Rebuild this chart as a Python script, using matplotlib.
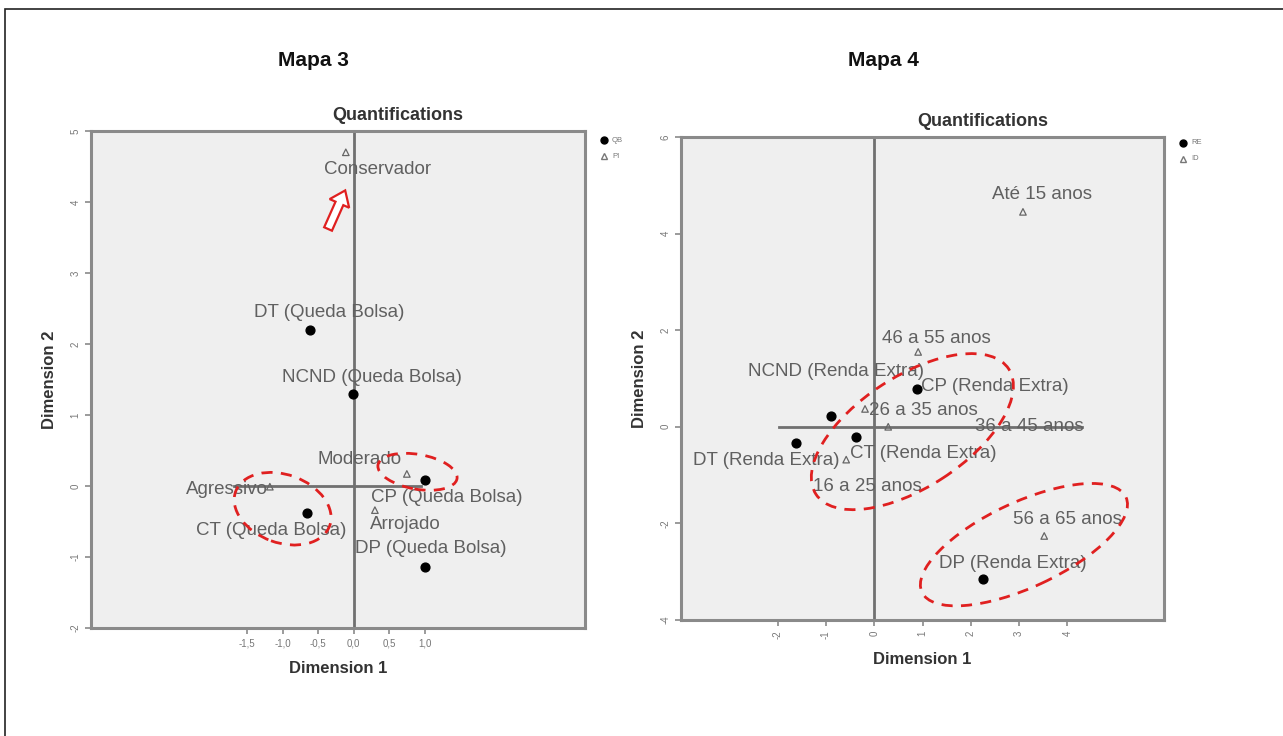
import matplotlib.pyplot as plt
import matplotlib.patches as patches

plt.rcParams['font.family'] = ['Liberation Sans', 'DejaVu Sans']

# --- Mapa 3 data ---
qb_names = ["DT (Queda Bolsa)", "NCND (Queda Bolsa)", "CP (Queda Bolsa)",
            "CT (Queda Bolsa)", "DP (Queda Bolsa)"]
qb_x = [-0.61, -0.01, 1.00, -0.65, 1.00]
qb_y = [2.20, 1.30, 0.08, -0.38, -1.14]
pi_names = ["Conservador", "Moderado", "Agressivo", "Arrojado"]
pi_x = [-0.11, 0.75, -1.18, 0.30]
pi_y = [4.70, 0.17, -0.01, -0.34]

# --- Mapa 4 data ---
re_names = ["NCND (Renda Extra)", "DT (Renda Extra)", "CT (Renda Extra)",
            "CP (Renda Extra)", "DP (Renda Extra)"]
re_x = [-0.89, -1.62, -0.37, 0.89, 2.26]
re_y = [0.23, -0.33, -0.21, 0.79, -3.15]
id_names = ["Até 15 anos", "46 a 55 anos", "26 a 35 anos", "36 a 45 anos",
            "16 a 25 anos", "56 a 65 anos"]
id_x = [3.08, 0.91, -0.19, 0.29, -0.58, 3.52]
id_y = [4.45, 1.55, 0.37, 0.00, -0.68, -2.26]

# label offsets in pixels (dx, dy, ha)
qb_off = [(19, 17, 'center'), (19, 16, 'center'), (22, -17, 'center'),
          (-36, -18, 'center'), (6, 18, 'center')]
pi_off = [(32, -17, 'center'), (-47, 14, 'center'), (-2, -3, 'right'), (30, -14, 'center')]
re_off = [(5, 44, 'center'), (-30, -18, 'center'), (67, -17, 'center'),
          (4, 2, 'left'), (29, 15, 'center')]
id_off = [(19, 17, 'center'), (18, 13, 'center'), (4, -2, 'left'), (141, 0, 'center'),
          (21, -27, 'center'), (23, 16, 'center')]

TXT = '#606060'
BG = '#efefef'
FRAME = '#8a8a8a'
RED = '#e02020'

fig = plt.figure(figsize=(12.83, 7.36), dpi=100)
fig.patch.set_facecolor('white')

# outer border
fig.add_artist(patches.Rectangle((5 / 1283, -0.05), 1.1, 1 - 9 / 736 + 0.05,
                                 transform=fig.transFigure, fill=False,
                                 edgecolor='#222222', lw=1.2))


def style_axes(ax):
    ax.set_facecolor(BG)
    for s in ['top', 'right', 'left', 'bottom']:
        ax.spines[s].set_color(FRAME)
        ax.spines[s].set_linewidth(2.2)
    ax.tick_params(axis='both', colors=FRAME, labelcolor='#777777', labelsize=7,
                   length=4, width=1.2, direction='out')


def labels(ax, xs, ys, names, offs):
    for x, y, n, (dx, dy, ha) in zip(xs, ys, names, offs):
        ax.annotate(n, (x, y), xytext=(dx, dy), textcoords='offset pixels',
                    ha=ha, va='center', fontsize=13.5, color=TXT, zorder=4)


def legend(x, y, names):
    fig.lines.append(plt.Line2D([x / 1283], [1 - y / 736], marker='o', ms=5,
                                color='black', ls='none', transform=fig.transFigure))
    fig.lines.append(plt.Line2D([x / 1283], [1 - (y + 16) / 736], marker='^', ms=4,
                                mfc='none', mec='#777777', ls='none',
                                transform=fig.transFigure))
    fig.text((x + 8) / 1283, 1 - y / 736, names[0], fontsize=5.5, color='#777777', va='center')
    fig.text((x + 8) / 1283, 1 - (y + 16) / 736, names[1], fontsize=5.5, color='#777777',
             va='center')


# ================= Mapa 3 =================
ax1 = fig.add_axes([91 / 1283, 1 - 628 / 736, 494 / 1283, 497 / 736])
style_axes(ax1)
ax1.set_xlim(-3.7, 3.26)
ax1.set_ylim(-2, 5)
ax1.axvline(0, color='#707070', lw=2, zorder=1)
ax1.plot([-1.68, 0.95], [0, 0], color='#707070', lw=2, zorder=1)
ax1.scatter(qb_x, qb_y, s=40, color='black', zorder=3)
ax1.scatter(pi_x, pi_y, s=22, marker='^', facecolor='none', edgecolor='#666666',
            lw=0.9, zorder=3)
labels(ax1, qb_x, qb_y, qb_names, qb_off)
labels(ax1, pi_x, pi_y, pi_names, pi_off)
ax1.set_xticks([-1.5, -1.0, -0.5, 0.0, 0.5, 1.0])
ax1.set_xticklabels(['-1,5', '-1,0', '-0,5', '0,0', '0,5', '1,0'])
ax1.set_yticks(range(-2, 6))
ax1.set_yticklabels([str(v) for v in range(-2, 6)], rotation=90, va='center')
ax1.add_patch(patches.Ellipse((-1.0, -0.32), 1.41, 0.96, angle=-20, fill=False,
                              edgecolor=RED, lw=2, ls=(0, (4, 3)), zorder=5))
ax1.add_patch(patches.Ellipse((0.9, 0.2), 1.13, 0.49, angle=-10, fill=False,
                              edgecolor=RED, lw=2, ls=(0, (4, 3)), zorder=5))
ax1.add_patch(patches.FancyArrow(-0.36, 3.62, 0.16, 0.36, width=0.12, head_width=0.3,
                                 head_length=0.2, facecolor='white',
                                 edgecolor=RED, lw=1.6, zorder=5))
ax1.set_xlabel('Dimension 1', fontsize=12, fontweight='bold', color='#333333', labelpad=9)
ax1.set_ylabel('Dimension 2', fontsize=12, fontweight='bold', color='#333333', labelpad=10)

fig.text(313 / 1283, 1 - 60 / 736, 'Mapa 3', ha='center', va='center',
         fontsize=15, fontweight='bold', color='#111111')
fig.text(398 / 1283, 1 - 116 / 736, 'Quantifications', ha='center', va='center',
         fontsize=13, fontweight='bold', color='#333333')
legend(604, 140, ['QB', 'PI'])

# ================= Mapa 4 =================
ax2 = fig.add_axes([681 / 1283, 1 - 620 / 736, 483 / 1283, 483 / 736])
style_axes(ax2)
ax2.set_xlim(-4, 6)
ax2.set_ylim(-4, 6)
ax2.axvline(0, color='#707070', lw=2, zorder=1)
ax2.plot([-1.97, 4.3], [0, 0], color='#707070', lw=2, zorder=1)
ax2.scatter(re_x, re_y, s=40, color='black', zorder=3)
ax2.scatter(id_x, id_y, s=22, marker='^', facecolor='none', edgecolor='#666666',
            lw=0.9, zorder=3)
labels(ax2, re_x, re_y, re_names, re_off)
labels(ax2, id_x, id_y, id_names, id_off)
ax2.set_xticks(range(-2, 5))
ax2.set_xticklabels([str(v) for v in range(-2, 5)], rotation=90, ha='center')
ax2.set_yticks(range(-4, 7, 2))
ax2.set_yticklabels([str(v) for v in range(-4, 7, 2)], rotation=90, va='center')
ax2.add_patch(patches.Ellipse((0.79, -0.1), 4.76, 2.3, angle=33, fill=False,
                              edgecolor=RED, lw=2, ls=(0, (4, 3)), zorder=5))
ax2.add_patch(patches.Ellipse((3.1, -2.44), 4.66, 1.76, angle=25, fill=False,
                              edgecolor=RED, lw=2, ls=(0, (4, 3)), zorder=5))
ax2.set_xlabel('Dimension 1', fontsize=12, fontweight='bold', color='#333333', labelpad=9)
ax2.set_ylabel('Dimension 2', fontsize=12, fontweight='bold', color='#333333', labelpad=10)

fig.text(883 / 1283, 1 - 60 / 736, 'Mapa 4', ha='center', va='center',
         fontsize=15, fontweight='bold', color='#111111')
fig.text(983 / 1283, 1 - 121 / 736, 'Quantifications', ha='center', va='center',
         fontsize=13, fontweight='bold', color='#333333')
legend(1183, 143, ['RE', 'ID'])

fig.savefig('out.png', dpi=100)
